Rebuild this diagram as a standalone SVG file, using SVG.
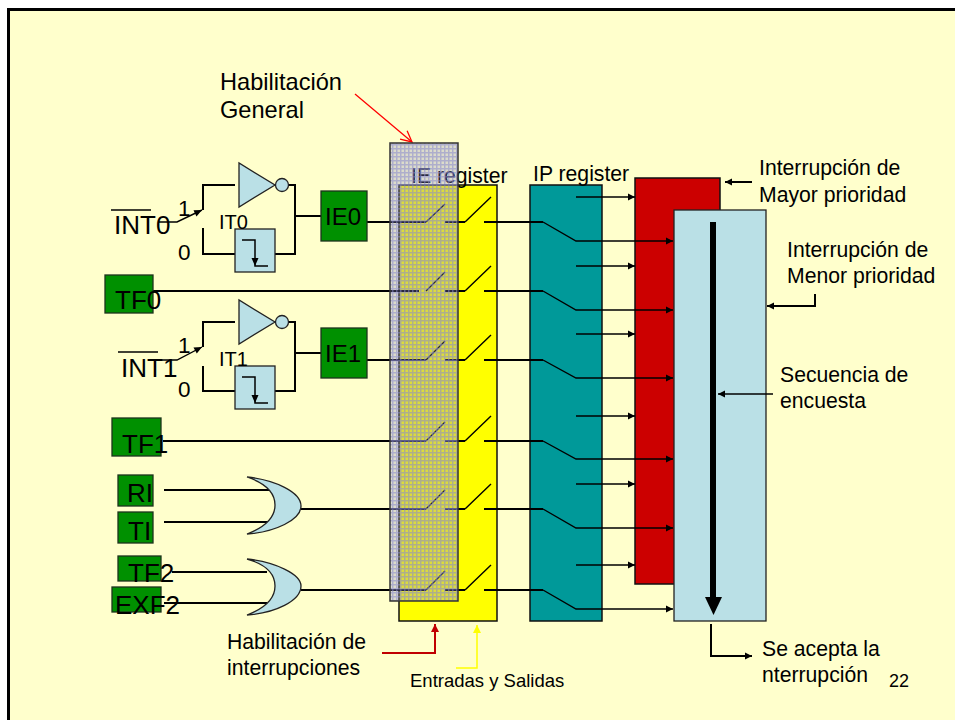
<svg xmlns="http://www.w3.org/2000/svg" width="955" height="720" viewBox="0 0 955 720">
<style>
text{font-family:"Liberation Sans",Arial,sans-serif;fill:#000}
.t26{font-size:26px}.t24{font-size:24px}.t22{font-size:22.500px}.t20{font-size:20px}.t21{font-size:21.200px}.t23{font-size:23.600px}
.g{fill:#009000;stroke:#1c331c;stroke-width:1.3}
.b{fill:#BAE0E6;stroke:#222;stroke-width:1.3}
.r{stroke:#111;stroke-width:1.5}
.c{fill:none;stroke:#000;stroke-width:2}
.s{fill:none;stroke:#000;stroke-width:1.4}
</style>
<defs>
<marker id="m7" markerUnits="userSpaceOnUse" markerWidth="9" markerHeight="9" refX="8" refY="4.500" orient="auto"><path d="M1 1L8 4.500L1 8Z" fill="#000"/></marker>
<marker id="mr" markerUnits="userSpaceOnUse" markerWidth="10" markerHeight="10" refX="9" refY="5" orient="auto"><path d="M1 1L9 5L1 9Z" fill="#C00000"/></marker>
<marker id="my" markerUnits="userSpaceOnUse" markerWidth="10" markerHeight="10" refX="9" refY="5" orient="auto"><path d="M1 1L9 5L1 9Z" fill="#FFFF00"/></marker>
<marker id="mo" markerUnits="userSpaceOnUse" markerWidth="14" markerHeight="14" refX="12" refY="7" orient="auto"><path d="M1 1.500L12 7L1 12.500" fill="none" stroke="#F00" stroke-width="1.3"/></marker>
<pattern id="dots" width="4" height="4" patternUnits="userSpaceOnUse"><rect width="4" height="4" fill="#8A8ACB" fill-opacity=".3"/><path d="M0 0H4V1.500H0ZM0 1.500H1.500V4H0Z" fill="#8A8ACB" fill-opacity=".55"/></pattern>
</defs>
<rect width="955" height="720" fill="#fff"/>
<rect x="8" y="9" width="947" height="711" fill="#FFFFCC"/>
<path d="M8.500 720V9.500H955" fill="none" stroke="#000" stroke-width="3"/>

<g id="ie-register"><rect x="399" y="185" width="98" height="436" fill="#FFFF00" stroke="#111" stroke-width="1.5"/></g>
<g id="ip-register"><rect class="r" x="530" y="185" width="72" height="436" fill="#009999"/></g>
<g id="mayor"><rect class="r" x="635" y="178" width="85" height="406" fill="#CC0000"/></g>
<g id="menor"><rect class="b" x="674" y="210" width="92" height="411"/></g>

<g id="connectors">
<path class="s" d="M158 222H177L202 210"/>
<path class="s" d="M158 360H177L202 347"/>
<path class="c" d="M203 210V185H235M203 228V254H235M288 185H295V254H275M295 216H321"/>
<path class="c" d="M203 347V322H235M203 366V391H235M288 322H295V391H275M295 353H321"/>
<g class="c">
<path d="M367 222H426M445 222H465M484 222H543"/>
<path d="M153 291H419M445 291H465M484 291H543"/>
<path d="M367 360H426M445 360H465M484 360H543"/>
<path d="M163 441H426M445 441H465M484 441H543"/>
<path d="M301 509H426M445 509H465M484 509H543"/>
<path d="M301 590H426M445 590H465M484 590H543"/>
<path d="M164 490H270M164 522H270M172 572H267M164 603H267"/>
</g>
<g class="s">
<path d="M426 222L445 204M465 222L491 197"/>
<path d="M426 291L445 272M465 291L491 266"/>
<path d="M426 360L445 341M465 360L491 335"/>
<path d="M426 441L445 422M465 441L491 416"/>
<path d="M426 509L445 490M465 509L491 484"/>
<path d="M426 590L445 571M465 590L491 565"/>
<path d="M543 222L576 241H673" marker-end="url(#m7)"/>
<path d="M543 291L576 310H673" marker-end="url(#m7)"/>
<path d="M543 360L576 378H673" marker-end="url(#m7)"/>
<path d="M543 441L576 459H673" marker-end="url(#m7)"/>
<path d="M543 509L576 528H673" marker-end="url(#m7)"/>
<path d="M543 590L576 609H673" marker-end="url(#m7)"/>
<path d="M576 197H635" marker-end="url(#m7)"/>
<path d="M576 266H635" marker-end="url(#m7)"/>
<path d="M576 334H635" marker-end="url(#m7)"/>
<path d="M576 416H635" marker-end="url(#m7)"/>
<path d="M576 484H635" marker-end="url(#m7)"/>
<path d="M576 565H635" marker-end="url(#m7)"/>
</g>
<path d="M355 94L412 142" fill="none" stroke="#F00" stroke-width="1.3" marker-end="url(#mo)"/>
<path d="M382 653H435V624" fill="none" stroke="#C00000" stroke-width="2" marker-end="url(#mr)"/>
<path d="M456 668H477V625" fill="none" stroke="#FFFF00" stroke-width="1.5" marker-end="url(#my)"/>
<path class="c" d="M752 182H725" marker-end="url(#m7)"/>
<path class="c" d="M815 294V306H767" marker-end="url(#m7)"/>
<path class="s" d="M773 394H718" marker-end="url(#m7)"/>
<path class="c" d="M711 624V656H752" marker-end="url(#m7)"/>
<path d="M713 222V598" fill="none" stroke="#000" stroke-width="6"/>
<path d="M705 597H722L713.500 615Z" fill="#000"/>
<path d="M202 210L193.500 210.200L196.500 216.600Z" fill="#000"/>
<path d="M202 347L193.500 347.400L196.800 353.600Z" fill="#000"/>
</g>

<g id="inv0"><path class="b" d="M239 163V207L275 185Z"/><circle class="b" cx="282" cy="185" r="6.500"/></g>
<g id="ff0"><rect class="b" x="235" y="229" width="40" height="43"/><path d="M242 240H255V266H268" fill="none" stroke="#000" stroke-width="1.500"/><path d="M251.500 258H258.500L255 266Z" fill="#000"/></g>
<g id="inv1"><path class="b" d="M239 300V344L275 322Z"/><circle class="b" cx="282" cy="322" r="6.500"/></g>
<g id="ff1"><rect class="b" x="235" y="366" width="40" height="43"/><path d="M242 377H255V403H268" fill="none" stroke="#000" stroke-width="1.500"/><path d="M251.500 395H258.500L255 403Z" fill="#000"/></g>
<g id="or0"><path class="b" d="M247 477C275 480 301 492 301 506C301 520 275 532 247 534C268 526 275 516 275 505C275 494 268 484 247 477Z"/></g>
<g id="or1"><path class="b" d="M247 559C275 562 301 574 301 586C301 601 275 613 247 615C268 607 275 597 275 586C275 575 268 565 247 559Z"/></g>

<g id="ie0"><rect class="g" x="321" y="191" width="46" height="50"/><text class="t24" x="325" y="225">IE0</text></g>
<g id="ie1"><rect class="g" x="321" y="328" width="46" height="50"/><text class="t24" x="325" y="362">IE1</text></g>
<g id="tf0"><rect class="g" x="105" y="275" width="48" height="38"/><text class="t26" x="115" y="309">TF0</text></g>
<g id="tf1"><rect class="g" x="112" y="418" width="49" height="38"/><text class="t26" x="122" y="453">TF1</text></g>
<g id="ri"><rect class="g" x="118" y="475" width="35" height="31"/><text class="t26" x="127" y="502">RI</text></g>
<g id="ti"><rect class="g" x="118" y="512" width="35" height="31"/><text class="t26" x="128" y="540">TI</text></g>
<g id="tf2"><rect class="g" x="118" y="556" width="43" height="25"/><text class="t26" x="128" y="582">TF2</text></g>
<g id="exf2"><rect class="g" x="112" y="587" width="49" height="25"/><text class="t26" x="115" y="614">EXF2</text></g>

<g id="int0"><path d="M111 210H151" stroke="#000" stroke-width="1.500"/><text class="t26" x="114" y="234">INT0</text></g>
<g id="int1"><path d="M118 352H158" stroke="#000" stroke-width="1.500"/><text class="t26" x="121" y="377">INT1</text></g>

<text class="t22" x="178" y="216">1</text><text class="t22" x="178" y="260">0</text>
<text class="t22" x="178" y="353">1</text><text class="t22" x="178" y="397">0</text>
<text class="t20" x="219" y="229">IT0</text><text class="t20" x="219" y="366">IT1</text>

<text class="t21" x="411" y="183">IE register</text>
<text class="t21" x="533" y="181">IP register</text>
<g id="habilitacion-general"><rect x="390" y="143" width="68" height="458" fill="url(#dots)" stroke="#333" stroke-width="1.500"/></g>

<text class="t23" x="220" y="90">Habilitación</text><text class="t23" x="220" y="118">General</text>
<text class="t21" x="227" y="649">Habilitación de</text><text class="t21" x="227" y="675">interrupciones</text>
<text x="410" y="687" font-size="18.500">Entradas y Salidas</text>
<text class="t21" x="759" y="175">Interrupción de</text><text class="t21" x="759" y="202">Mayor prioridad</text>
<text class="t21" x="787" y="257">Interrupción de</text><text class="t21" x="787" y="283">Menor prioridad</text>
<text class="t21" x="780" y="382">Secuencia de</text><text class="t21" x="780" y="408">encuesta</text>
<text class="t21" x="762" y="656">Se acepta la</text><text class="t21" x="762" y="682">nterrupción</text>
<text x="889" y="687" font-size="18px">22</text>
</svg>
